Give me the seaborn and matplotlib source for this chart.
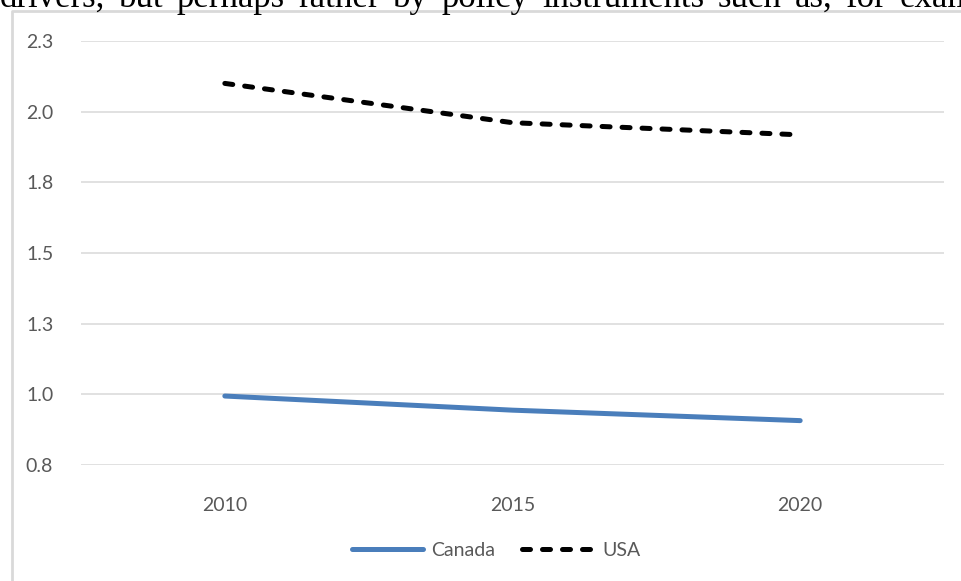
import matplotlib
matplotlib.use("Agg")
import matplotlib.pyplot as plt
from matplotlib.lines import Line2D
import seaborn as sns
import pandas as pd

# Series values
years = ["2010", "2015", "2020"]
canada = [0.994, 0.944, 0.907]
usa = [2.100, 1.961, 1.918]
y_ticks = [0.75, 1.0, 1.25, 1.5, 1.75, 2.0, 2.25]
y_tick_labels = ["0.8", "1.0", "1.3", "1.5", "1.8", "2.0", "2.3"]

# Running text of the page above the chart (justified line)
body_words = ["drivers,", "but", "perhaps", "rather", "by", "policy",
              "instruments", "such", "as,", "for", "exam"]

W, H = 962, 581
DPI = 100
sns.set_theme(style="white")
plt.rcParams["font.family"] = ["Lato", "DejaVu Sans"]

fig = plt.figure(figsize=(W / DPI, H / DPI), dpi=DPI)
ax = fig.add_axes([81 / W, 1 - 465 / H, (944 - 81) / W, (465 - 41) / H])

df = pd.DataFrame({
    "pos": list(range(len(years))) * 2,
    "value": canada + usa,
    "country": ["Canada"] * len(years) + ["USA"] * len(years),
})

sns.lineplot(
    data=df, x="pos", y="value", hue="country", style="country",
    palette={"Canada": "#4a7ebb", "USA": "#000000"},
    dashes={"Canada": "", "USA": (1.6, 2.4)},
    linewidth=3.6, ax=ax, legend=False, zorder=3,
)
for ln in ax.get_lines():
    ln.set_solid_capstyle("round")
    ln.set_dash_capstyle("round")

ax.set_xlim(-0.5, len(years) - 0.5)
ax.set_ylim(y_ticks[0], y_ticks[-1])
ax.set_xticks(range(len(years)))
ax.set_xticklabels(years)
ax.set_yticks(y_ticks)
ax.set_yticklabels(y_tick_labels)
ax.set_xlabel("")
ax.set_ylabel("")
ax.grid(axis="y", color="#d9d9d9", linewidth=1.1)
ax.grid(axis="x", visible=False)
for s in ax.spines.values():
    s.set_visible(False)
ax.tick_params(axis="both", length=0, colors="#595959", labelsize=14)
ax.tick_params(axis="y", pad=20)
ax.tick_params(axis="x", pad=23)

# Legend below the plot
handles = [
    Line2D([], [], color="#4a7ebb", lw=3.6, solid_capstyle="round"),
    Line2D([], [], color="#000000", lw=3.6, dashes=(1.6, 2.4),
           dash_capstyle="round"),
]
fig.legend(handles, ["Canada", "USA"], loc="center",
           bbox_to_anchor=(496 / W, 1 - 550 / H), ncol=2, frameon=False,
           handlelength=3.7, handletextpad=0.4, columnspacing=1.4,
           labelcolor="#595959", fontsize=14)

# Chart frame (left and top edges)
fig.add_artist(Line2D([12 / W, 12 / W, 1.0], [0.0, 1 - 11 / H, 1 - 11 / H],
                      transform=fig.transFigure, color="#d9d9d9", lw=2))

# Justified body-text line running past the top edge
renderer = fig.canvas.get_renderer()
texts = [fig.text(0, 1 - 7 / H, w, family="Liberation Serif", fontsize=25,
                  color="#000000", va="baseline", ha="left")
         for w in body_words]
widths = [t.get_window_extent(renderer).width for t in texts]
first_x, last_x = 0.0, 900.0
gap = (last_x - first_x - sum(widths[:-1])) / (len(texts) - 1)
x = first_x
for t, wdt in zip(texts, widths):
    t.set_x(x / W)
    x += wdt + gap

fig.savefig("out.png", dpi=DPI)
